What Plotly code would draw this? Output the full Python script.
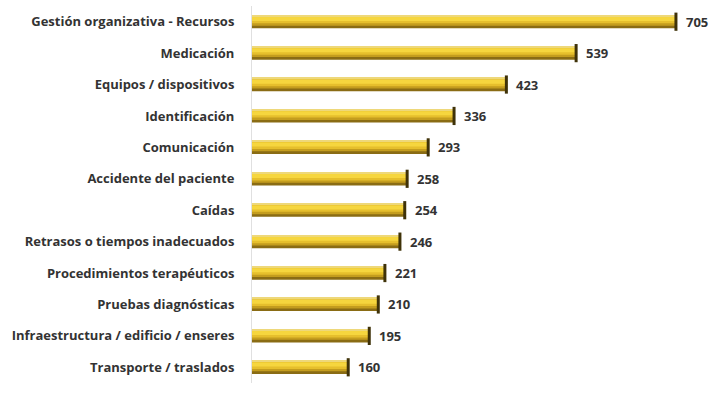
import plotly.graph_objects as go

categories = [
    "Gestión organizativa - Recursos",
    "Medicación",
    "Equipos / dispositivos",
    "Identificación",
    "Comunicación",
    "Accidente del paciente",
    "Caídas",
    "Retrasos o tiempos inadecuados",
    "Procedimientos terapéuticos",
    "Pruebas diagnósticas",
    "Infraestructura / edificio / enseres",
    "Transporte / traslados",
]
values = [705, 539, 423, 336, 293, 258, 254, 246, 221, 210, 195, 160]

FONT = "Open Sans"
TEXT_COLOR = "#333333"

fig = go.Figure()

# stacked strips build a cylinder-like gold bar: pale top edge,
# bright band, darker olive underside (y axis is reversed, so a
# positive offset moves a strip downward)
H = 0.42
strips = [
    ("#8a6c14", -H / 2, H),          # dark underside / rim
    ("#c49d1e", -H / 2, H * 0.80),   # gold body
    ("#e6bf2c", -H / 2, H * 0.62),   # warm yellow
    ("#f6d63e", -H / 2 + H * 0.14, H * 0.30),  # bright band
    ("#eed87a", -H / 2, H * 0.10),   # pale top edge
]
for color, off, w in strips:
    fig.add_trace(go.Bar(
        x=values, y=categories, orientation="h",
        offset=off, width=w,
        marker=dict(color=color, line=dict(width=0)),
        hoverinfo="skip", showlegend=False,
    ))

# dark end cap on each bar
fig.add_trace(go.Scatter(
    x=values, y=categories, mode="markers",
    marker=dict(symbol="line-ns", size=13, line=dict(width=3, color="#3f3208")),
    hoverinfo="skip", showlegend=False,
))

# value labels just past the end of each bar
for cat, v in zip(categories, values):
    fig.add_annotation(
        x=v, y=cat, text=str(v), showarrow=False,
        xanchor="left", yanchor="middle", xshift=8,
        font=dict(family=FONT, size=13, color=TEXT_COLOR, weight="bold"),
    )

fig.update_layout(
    width=711, height=405,
    margin=dict(l=252, r=11, t=6, b=22),
    paper_bgcolor="white", plot_bgcolor="white",
    barmode="overlay",
    xaxis=dict(range=[0, 745], visible=False, fixedrange=True),
    yaxis=dict(
        autorange=False, range=[11.5, -0.5],
        categoryorder="array", categoryarray=categories,
        showline=True, linecolor="#e0e0e0", linewidth=1,
        showgrid=False, ticks="", ticklabelstandoff=14,
        tickfont=dict(family=FONT, size=13, color=TEXT_COLOR, weight="bold"),
    ),
)

fig.write_html("out.html")
